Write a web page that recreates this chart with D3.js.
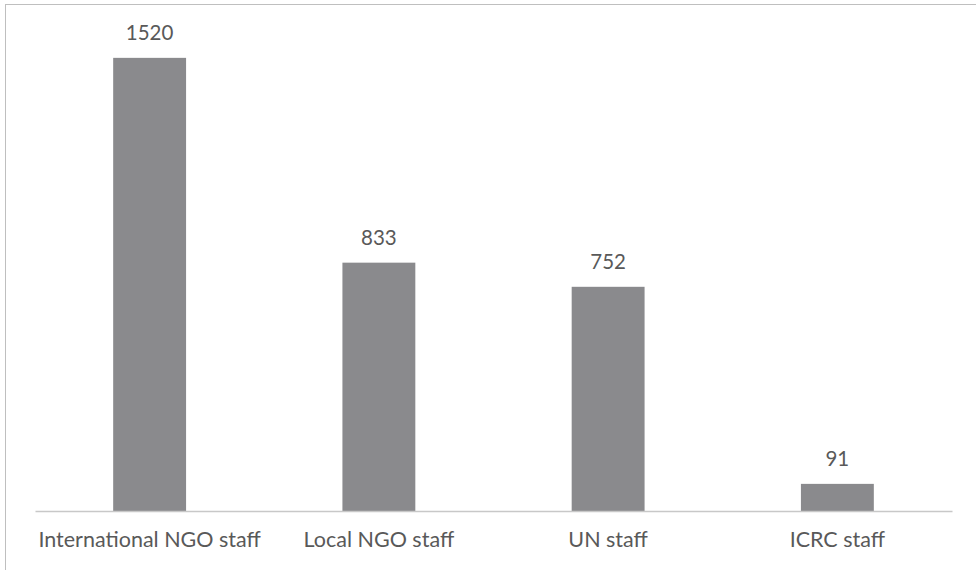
<!DOCTYPE html>
<html>
<head>
<meta charset="utf-8">
<script src="https://cdn.jsdelivr.net/npm/d3@7"></script>
<style>
  body { margin: 0; background: #fff; }
  text { font-family: Lato, "Open Sans", sans-serif; fill: #595959; }
</style>
</head>
<body>
<div id="chart"></div>
<script>
// Chart data
var categories = ["International NGO staff", "Local NGO staff", "UN staff", "ICRC staff"];
var values = [1520, 833, 752, 91];

var svgWidth = 976;
var svgHeight = 570;

var svg = d3.select("#chart")
  .append("svg")
  .attr("width", svgWidth)
  .attr("height", svgHeight);

// outer chart border (runs off the right and bottom of the picture)
svg.append("rect")
  .attr("x", 5.5)
  .attr("y", 4.5)
  .attr("width", 1000)
  .attr("height", 1000)
  .attr("fill", "none")
  .attr("stroke", "#bfbfbf")
  .attr("stroke-width", 1);

var xScale = d3.scaleBand()
  .domain(categories)
  .range([35, 952])
  .paddingInner(0.682)
  .paddingOuter(0.341);

var yScale = d3.scaleLinear()
  .domain([0, 1600])
  .range([511, 34]);

var data = categories.map(function(c, i) { return { cat: c, val: values[i] }; });

svg.selectAll("rect.bar")
  .data(data)
  .enter()
  .append("rect")
  .attr("class", "bar")
  .attr("x", d => xScale(d.cat))
  .attr("y", d => yScale(d.val))
  .attr("width", xScale.bandwidth())
  .attr("height", d => yScale(0) - yScale(d.val))
  .attr("fill", "#8a8a8d");

// baseline + category labels
var bottomAxis = d3.axisBottom(xScale).tickSize(0).tickPadding(21);
var axisG = svg.append("g")
  .attr("transform", "translate(0," + yScale(0) + ")")
  .call(bottomAxis);
axisG.select(".domain").attr("stroke", "#c8c8c8").attr("stroke-width", 1.5);
axisG.selectAll("text")
  .style("font-family", "Lato, 'Open Sans', sans-serif")
  .style("font-size", "21.5px")
  .attr("fill", "#595959");

// value labels
svg.selectAll("text.val")
  .data(data)
  .enter()
  .append("text")
  .attr("class", "val")
  .attr("x", d => xScale(d.cat) + xScale.bandwidth() / 2)
  .attr("y", d => yScale(d.val) - 18)
  .attr("text-anchor", "middle")
  .style("font-size", "20.5px")
  .text(d => d.val);
</script>
</body>
</html>
